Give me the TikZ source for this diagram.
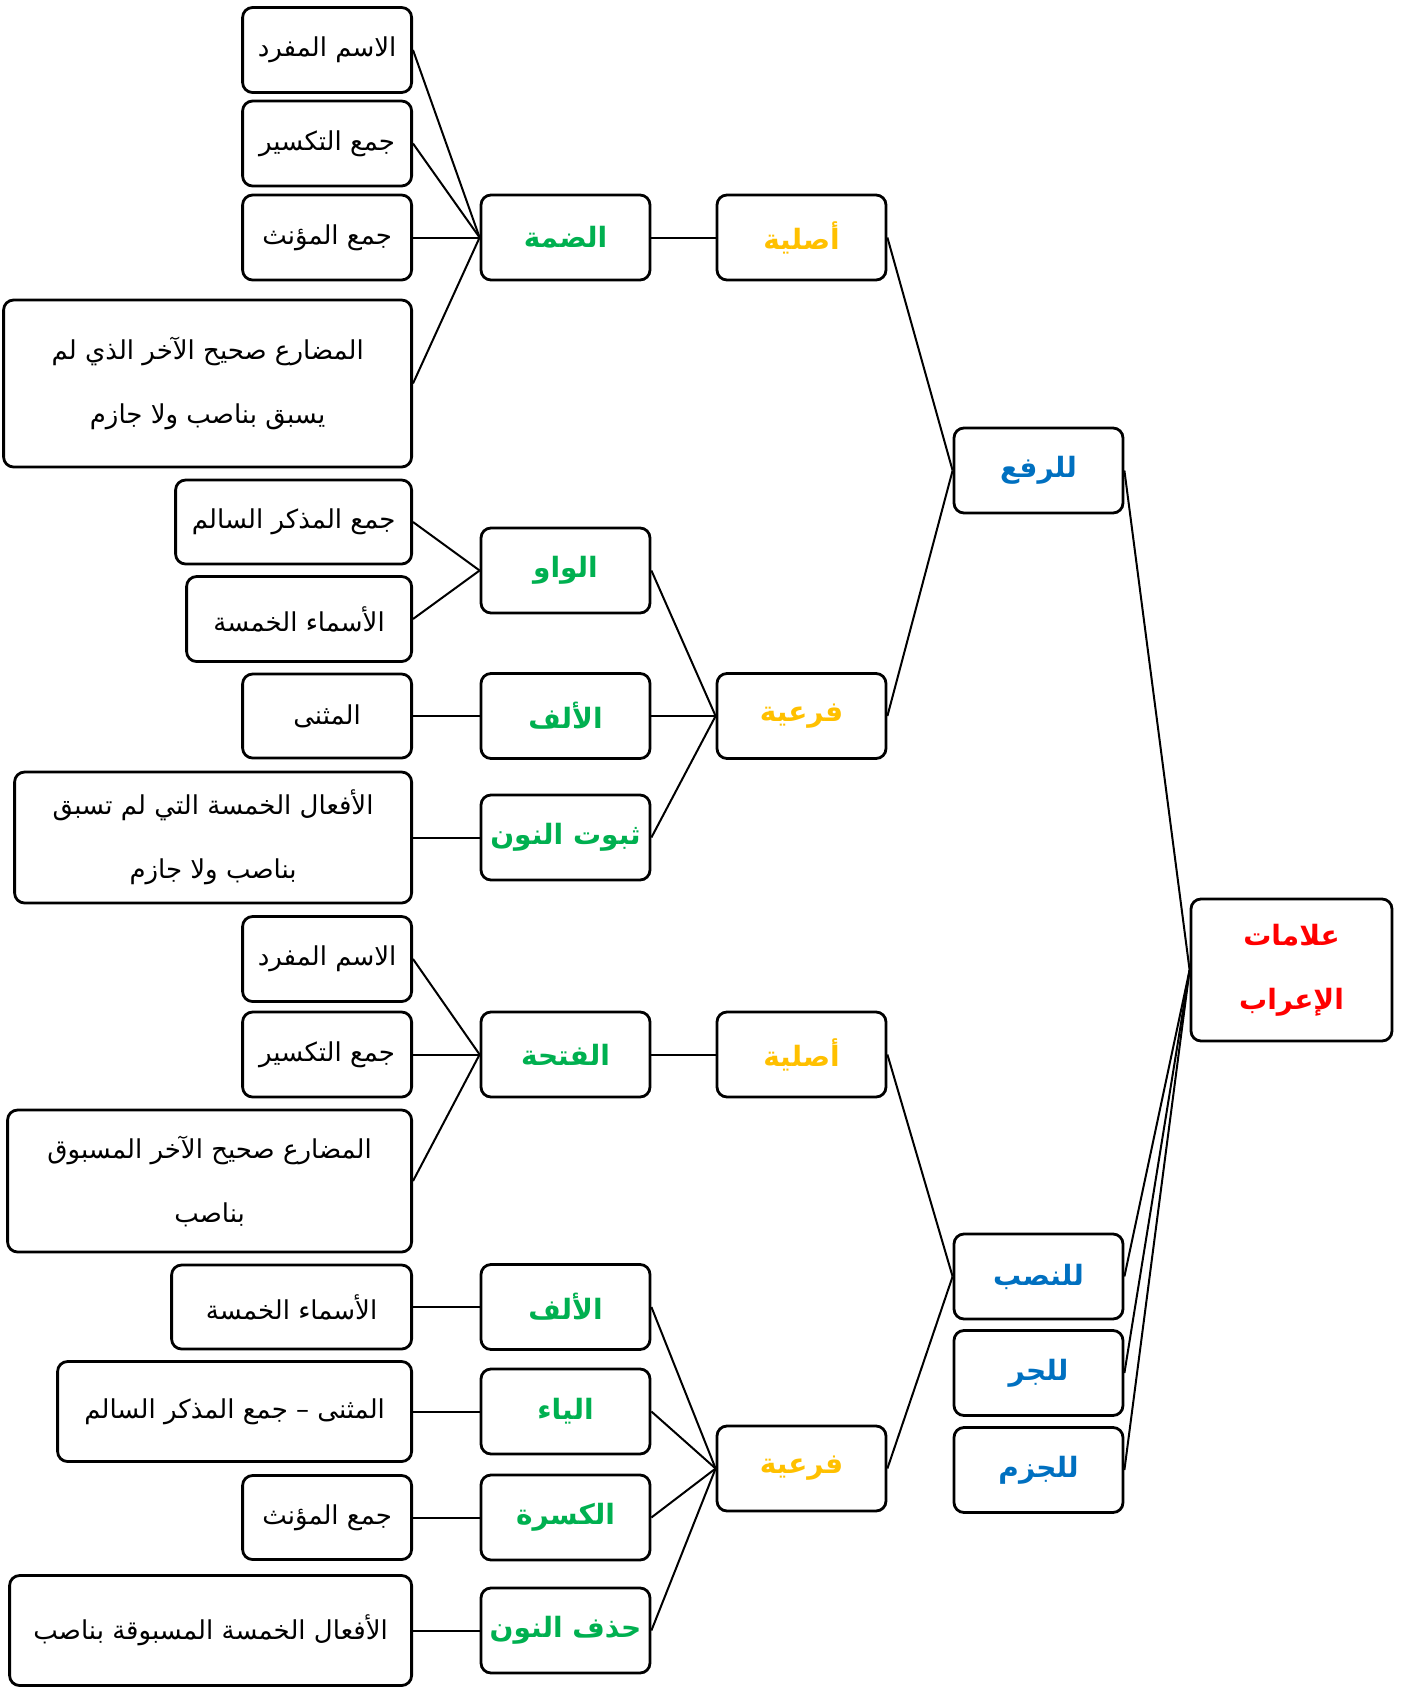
\documentclass[tikz,border=0pt]{standalone}
\usepackage{fontspec}
\usepackage{xcolor}
\newfontfamily\arabicfont[Script=Arabic]{DejaVu Sans}
\TeXXeTstate=1
\newcommand{\ar}[1]{{\arabicfont\beginR #1\endR}}
\definecolor{markgreen}{HTML}{00B050}
\definecolor{kindyellow}{HTML}{FFC000}
\definecolor{caseblue}{HTML}{0070C0}
\definecolor{rootred}{HTML}{FF0000}

\begin{document}
\begin{tikzpicture}[x=0.5pt,y=-0.5pt]
\tikzset{every node/.style={draw,rounded corners=5pt,line width=1.4pt,inner sep=2pt,align=center}}
\tikzset{leaf/.style={anchor=east,text=black,font=\fontsize{13}{32}\selectfont}}
\tikzset{colbox/.style={minimum width=84.5pt,minimum height=42.5pt,font=\fontsize{14}{32}\selectfont\bfseries}}
\tikzset{markbox/.style={colbox,text=markgreen}}
\tikzset{kindbox/.style={colbox,text=kindyellow}}
\tikzset{casebox/.style={colbox,text=caseblue}}
\tikzset{edge/.style={line width=1pt}}

\useasboundingbox (0,0) rectangle (1408,1687);

% leaves
\node[leaf,minimum width=84.5pt,minimum height=42.5pt] (l1) at (413,50) {\ar{الاسم المفرد}};
\node[leaf,minimum width=84.5pt,minimum height=42.5pt] (l2) at (413,143.5) {\ar{جمع التكسير}};
\node[leaf,minimum width=84.5pt,minimum height=42.5pt] (l3) at (413,237.5) {\ar{جمع المؤنث}};
\node[leaf,minimum width=204pt,minimum height=83.5pt] (l4) at (413,383.5) {\ar{المضارع صحيح الآخر الذي لم}\\\ar{يسبق بناصب ولا جازم}};
\node[leaf,minimum width=118pt,minimum height=42pt] (l5) at (413,522) {\ar{جمع المذكر السالم}};
\node[leaf,minimum width=112.5pt,minimum height=42.5pt] (l6) at (413,619) {\ar{الأسماء الخمسة}};
\node[leaf,minimum width=84.5pt,minimum height=42pt] (l7) at (413,716) {\ar{المثنى}};
\node[leaf,minimum width=198.5pt,minimum height=65.5pt] (l8) at (413,837.5) {\ar{الأفعال الخمسة التي لم تسبق}\\\ar{بناصب ولا جازم}};
\node[leaf,minimum width=84.5pt,minimum height=42.5pt] (l9) at (413,959) {\ar{الاسم المفرد}};
\node[leaf,minimum width=84.5pt,minimum height=42.5pt] (l10) at (413,1054.5) {\ar{جمع التكسير}};
\node[leaf,minimum width=202pt,minimum height=71pt] (l11) at (413,1181) {\ar{المضارع صحيح الآخر المسبوق}\\\ar{بناصب}};
\node[leaf,minimum width=120pt,minimum height=42pt] (l12) at (413,1307) {\ar{الأسماء الخمسة}};
\node[leaf,minimum width=177pt,minimum height=50pt] (l13) at (413,1411.5) {\ar{المثنى – جمع المذكر السالم}};
\node[leaf,minimum width=84.5pt,minimum height=42pt] (l14) at (413,1517.5) {\ar{جمع المؤنث}};
\node[leaf,minimum width=201pt,minimum height=55pt] (l15) at (413,1630.5) {\ar{الأفعال الخمسة المسبوقة بناصب}};

% marks
\node[markbox] (g1) at (565.5,237.5) {\ar{الضمة}};
\node[markbox] (g2) at (565.5,570.5) {\ar{الواو}};
\node[markbox] (g3) at (565.5,716) {\ar{الألف}};
\node[markbox] (g4) at (565.5,837.5) {\ar{ثبوت النون}};
\node[markbox] (g5) at (565.5,1054.5) {\ar{الفتحة}};
\node[markbox] (g6) at (565.5,1307) {\ar{الألف}};
\node[markbox] (g7) at (565.5,1411.5) {\ar{الياء}};
\node[markbox] (g8) at (565.5,1517.5) {\ar{الكسرة}};
\node[markbox] (g9) at (565.5,1630.5) {\ar{حذف النون}};

% kinds
\node[kindbox] (k1) at (801.5,237.5) {\ar{أصلية}};
\node[kindbox] (k2) at (801.5,716) {\ar{فرعية}};
\node[kindbox] (k3) at (801.5,1054.5) {\ar{أصلية}};
\node[kindbox] (k4) at (801.5,1468.5) {\ar{فرعية}};

% cases
\node[casebox] (c1) at (1038.5,470.5) {\ar{للرفع}};
\node[casebox] (c2) at (1038.5,1276.5) {\ar{للنصب}};
\node[casebox] (c3) at (1038.5,1373) {\ar{للجر}};
\node[casebox] (c4) at (1038.5,1470) {\ar{للجزم}};

\node[minimum width=100.5pt,minimum height=71pt,text=rootred,font=\fontsize{14}{32}\selectfont\bfseries] (root) at (1291.5,970) {\ar{علامات}\\\ar{الإعراب}};

\foreach \a/\b in {l1/g1,l2/g1,l3/g1,l4/g1,l5/g2,l6/g2,l7/g3,l8/g4,l9/g5,l10/g5,l11/g5,l12/g6,l13/g7,l14/g8,l15/g9,
  g1/k1,g2/k2,g3/k2,g4/k2,g5/k3,g6/k4,g7/k4,g8/k4,g9/k4,k1/c1,k2/c1,k3/c2,k4/c2,c1/root,c2/root,c3/root,c4/root}
  \draw[edge] (\a.east) -- (\b.west);

\end{tikzpicture}
\end{document}
